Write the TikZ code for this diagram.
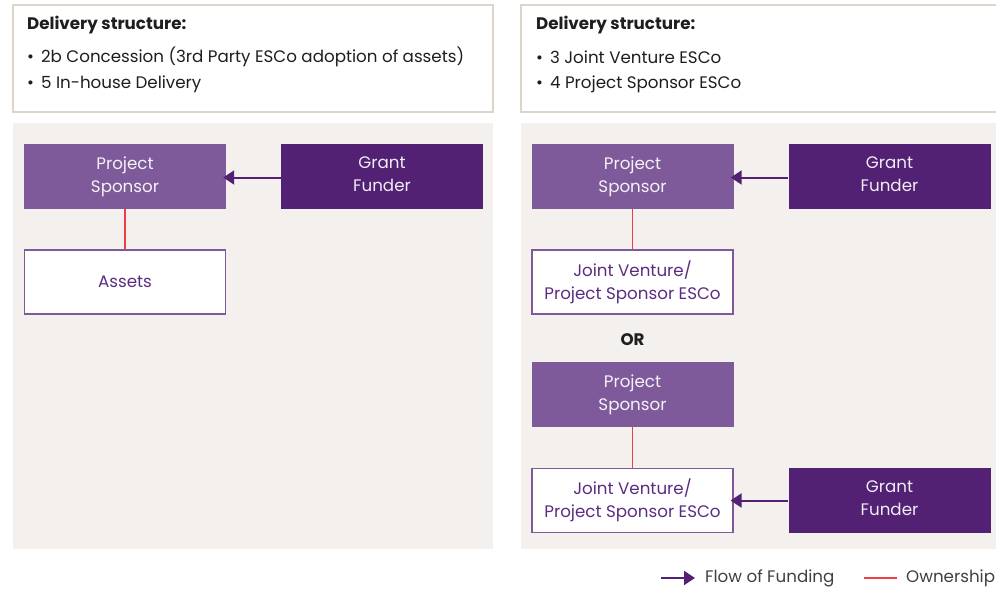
\documentclass[tikz,border=0pt]{standalone}
\usepackage{fontspec}
\setmainfont{Poppins}
\usetikzlibrary{arrows.meta}
\definecolor{psfill}{HTML}{7F5A9B}
\definecolor{gffill}{HTML}{522173}
\definecolor{panel}{HTML}{F4F0ED}
\definecolor{hdrborder}{HTML}{DDD5CC}
\definecolor{txtpurple}{HTML}{5B2D82}
\definecolor{own}{HTML}{EE3D45}
\definecolor{darktext}{HTML}{1E1E1E}
\newcommand{\bfont}{\fontsize{16.7}{23}\selectfont}
\newcommand{\dsc}{\vphantom{p}}
\tikzset{
  x=1pt,y=-1pt,
  every node/.style={font=\bfont},
  hdrbox/.style={draw=hdrborder,line width=1.2pt,fill=white},
  sponsor/.style={fill=psfill,text=white!92!psfill,minimum width=202pt,minimum height=65pt,align=center,inner sep=0pt},
  funder/.style={fill=gffill,text=white!92!gffill,minimum width=202pt,minimum height=65pt,align=center,inner sep=0pt},
  whitebox/.style={fill=white,draw=psfill,line width=1.1pt,text=txtpurple,minimum width=201pt,minimum height=64pt,align=center,inner sep=0pt},
  funding/.style={draw=gffill,line width=2pt,-{Triangle[length=11pt,width=14pt]}},
  ownership/.style={draw=own,line width=1.4pt},
  hdrtext/.style={anchor=west,text=darktext,inner sep=0pt},
}
\begin{document}
\begin{tikzpicture}
\useasboundingbox (0,0) rectangle (996,590);
% header boxes
\draw[hdrbox] (13,5) rectangle (493,112);
\draw[hdrbox] (521,5) rectangle (1000,112);
\node[hdrtext,font=\bfont\bfseries] (h1) at (27,25) {Delivery structure:};
\node[hdrtext] (h1a) at (27,57) {•\hspace{7pt}2b Concession (3rd Party ESCo adoption of assets)};
\node[hdrtext] (h1b) at (27,84) {•\hspace{7pt}5 In-house Delivery};
\node[hdrtext,font=\bfont\bfseries] (h2) at (536,25) {Delivery structure:};
\node[hdrtext] (h2a) at (536,57) {•\hspace{7pt}3 Joint Venture ESCo};
\node[hdrtext] (h2b) at (536,84) {•\hspace{7pt}4 Project Sponsor ESCo};
% panels
\fill[panel] (13,123) rectangle (493,549);
\fill[panel] (521,123) rectangle (996,549);
% left diagram
\node[sponsor] (ps1) at (125,176.5) {Project\\Sponsor};
\node[funder] (gf1) at (382,176.5) {Grant\\Funder\dsc};
\node[whitebox] (as1) at (125,282) {Assets};
\draw[funding] ([yshift=-1pt]gf1.west) -- ([xshift=-3pt,yshift=-1pt]ps1.east);
\draw[ownership] (ps1.south) -- (as1.north);
% right diagram
\node[sponsor] (ps2) at (632.5,176.5) {Project\\Sponsor};
\node[funder] (gf2) at (889.5,176.5) {Grant\\Funder\dsc};
\node[whitebox] (jv1) at (632.5,282) {Joint Venture/\\Project Sponsor ESCo};
\draw[funding] ([yshift=-1pt]gf2.west) -- ([xshift=-3pt,yshift=-1pt]ps2.east);
\draw[ownership] (ps2.south) -- (jv1.north);
\node[font=\bfont\bfseries,text=darktext] (or) at (632.5,340) {OR};
\node[sponsor] (ps3) at (632.5,394.5) {Project\\Sponsor};
\node[whitebox] (jv2) at (632.5,500.5) {Joint Venture/\\Project Sponsor ESCo};
\node[funder] (gf3) at (889.5,500.5) {Grant\\Funder\dsc};
\draw[ownership] (ps3.south) -- (jv2.north);
\draw[funding] (gf3.west) -- ([xshift=-3pt]jv2.east);
% legend
\coordinate (lf1) at (661,578);
\coordinate (lf2) at (695,578);
\draw[funding] (lf1) -- (lf2);
\node[anchor=west,inner sep=0pt,text=darktext!85] (lfl) at (705,578) {Flow of Funding};
\coordinate (lo1) at (864,578);
\coordinate (lo2) at (897,578);
\draw[ownership] (lo1) -- (lo2);
\node[anchor=west,inner sep=0pt,text=darktext!85] (lol) at (906,578) {Ownership};
\end{tikzpicture}
\end{document}
